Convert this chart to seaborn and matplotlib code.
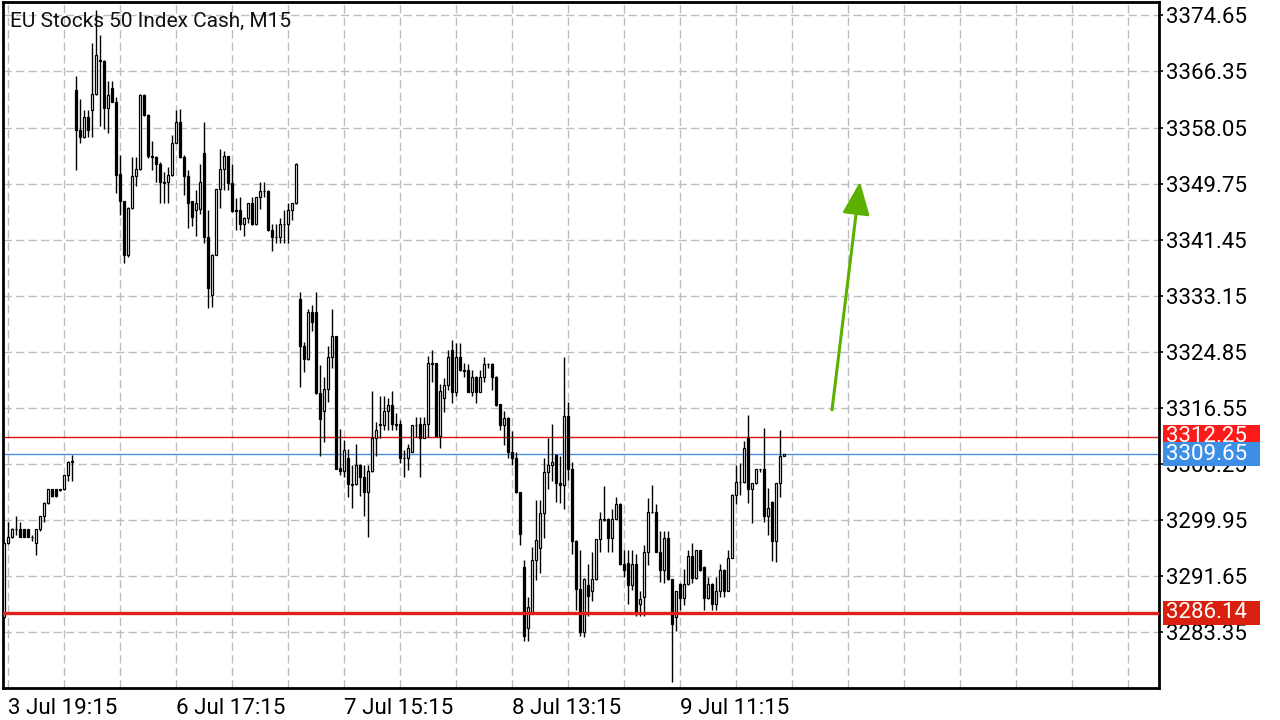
import numpy as np
import pandas as pd
import matplotlib
matplotlib.use("Agg")
import matplotlib.pyplot as plt
import matplotlib.transforms as mtransforms
from matplotlib.patches import Rectangle
import seaborn as sns

# ----------------------------
# Data (EU Stocks 50, M15 bars)
# ----------------------------
opens = [
    3285.5, 3296.4, 3297.4, 3298.5, 3298.5, 3298.5, 3298.5, 3297.4, 3296.4, 3298.5,
    3300.4, 3302.4, 3304.4, 3304.4, 3304.3, 3304.4, 3306.5, 3308.5,
    3363.6, 3357.7, 3356.6, 3359.6, 3360.7, 3363.0, 3367.9, 3367.9, 3361.0, 3363.9,
    3361.9, 3351.2, 3347.1, 3339.2, 3346.1, 3350.9, 3351.9, 3362.9, 3359.9, 3353.8,
    3353.7, 3352.7, 3349.9, 3349.9, 3351.0, 3355.8, 3358.8, 3353.7, 3350.8, 3347.1,
    3345.8, 3345.9, 3354.3, 3341.8, 3333.2, 3339.2, 3348.9, 3351.9, 3353.8, 3349.8,
    3345.8, 3345.8, 3343.7, 3344.7, 3346.8, 3343.7, 3347.7, 3348.7, 3348.7, 3342.8,
    3341.8, 3341.8, 3343.7, 3343.7, 3345.8, 3346.8,
    3332.6, 3325.7, 3323.7, 3330.7, 3330.7, 3318.7, 3316.0, 3319.3, 3324.0, 3327.1,
    3307.6, 3307.2, 3309.0, 3305.2, 3305.2, 3308.1, 3306.2, 3304.1, 3307.1, 3312.1,
    3314.0, 3314.0, 3316.0, 3316.9, 3314.1, 3314.1, 3309.0, 3309.0, 3310.0, 3314.0,
    3314.1, 3312.1, 3314.1, 3323.2, 3323.1, 3312.4, 3318.0, 3319.9, 3325.1, 3318.9,
    3324.0, 3322.1, 3322.1, 3318.9, 3321.1, 3318.9, 3321.0, 3323.0, 3323.0, 3321.1,
    3317.0, 3314.0, 3315.0, 3310.0, 3309.0, 3304.0,
    3292.9, 3283.8, 3286.0, 3293.9, 3295.8, 3300.9, 3307.0, 3308.1, 3309.5, 3305.4,
    3305.1, 3315.3, 3307.5, 3296.8, 3289.6, 3283.3, 3290.2, 3289.3, 3291.1, 3297.0,
    3300.1, 3300.1, 3297.2, 3300.1, 3302.3, 3293.3, 3293.5, 3290.2, 3293.3, 3287.4,
    3288.5, 3295.1, 3301.0, 3301.0, 3295.2, 3292.4, 3297.2, 3291.1, 3285.5,
    3290.4, 3288.3, 3290.4, 3294.5, 3291.3, 3295.4, 3292.9, 3288.3, 3290.4, 3287.4,
    3289.4, 3292.5, 3289.4, 3294.3, 3303.6, 3305.5, 3305.5, 3312.1, 3304.5, 3305.3,
    3307.4, 3307.4, 3300.5, 3302.6, 3296.7, 3305.3, 3309.3,
]
highs = [
    3296.5, 3299.6, 3298.7, 3300.5, 3299.6, 3298.6, 3298.6, 3297.7, 3298.6, 3300.5,
    3302.5, 3304.5, 3304.5, 3304.5, 3304.5, 3306.6, 3308.6, 3309.5,
    3365.7, 3362.3, 3360.7, 3360.7, 3370.5, 3375.5, 3371.8, 3368.0, 3364.9, 3364.9,
    3362.5, 3354.0, 3347.2, 3346.2, 3353.7, 3353.7, 3363.0, 3363.0, 3360.0, 3356.0,
    3353.9, 3352.9, 3351.5, 3352.2, 3356.9, 3360.7, 3360.8, 3354.0, 3351.8, 3347.2,
    3348.8, 3352.7, 3358.9, 3345.8, 3339.3, 3349.0, 3354.8, 3354.6, 3353.9, 3352.7,
    3347.6, 3347.8, 3344.8, 3346.9, 3347.8, 3347.8, 3349.9, 3349.9, 3348.8, 3343.7,
    3343.7, 3344.7, 3345.8, 3346.8, 3346.9, 3352.8,
    3333.7, 3326.3, 3331.2, 3331.8, 3333.7, 3322.9, 3321.1, 3325.7, 3331.2, 3327.2,
    3313.4, 3311.7, 3310.4, 3308.0, 3311.1, 3308.2, 3308.0, 3308.0, 3319.0, 3314.4,
    3318.2, 3318.2, 3318.0, 3319.0, 3315.7, 3314.7, 3310.2, 3311.1, 3313.9, 3315.2,
    3315.2, 3315.2, 3324.2, 3325.1, 3323.2, 3320.0, 3320.9, 3325.1, 3326.6, 3326.1,
    3326.1, 3323.1, 3323.0, 3322.1, 3321.2, 3322.1, 3324.0, 3323.1, 3323.1, 3321.2,
    3317.1, 3316.0, 3315.1, 3313.0, 3310.0, 3304.1,
    3294.0, 3288.5, 3295.9, 3302.9, 3302.9, 3309.0, 3312.1, 3314.1, 3309.6, 3309.3,
    3324.1, 3317.4, 3308.5, 3296.9, 3295.4, 3291.3, 3293.4, 3295.2, 3297.1, 3301.0,
    3304.9, 3300.2, 3301.5, 3303.3, 3302.4, 3295.4, 3295.4, 3295.4, 3294.9, 3289.3,
    3296.2, 3303.1, 3305.1, 3302.2, 3298.2, 3298.3, 3298.3, 3291.2, 3289.4,
    3290.5, 3292.6, 3295.4, 3296.4, 3295.5, 3295.5, 3293.0, 3291.5, 3290.5, 3291.5,
    3293.3, 3292.6, 3295.4, 3303.7, 3308.0, 3308.4, 3311.6, 3315.4, 3305.4, 3307.5,
    3307.5, 3313.5, 3304.6, 3302.7, 3305.4, 3313.2, 3309.7,
]
lows = [
    3285.3, 3296.3, 3297.2, 3297.7, 3297.3, 3297.3, 3297.3, 3296.7, 3294.7, 3298.2,
    3299.6, 3302.3, 3303.3, 3303.3, 3304.2, 3304.3, 3305.6, 3305.6,
    3351.7, 3355.8, 3356.5, 3356.7, 3356.7, 3362.9, 3358.2, 3357.9, 3357.2, 3361.8,
    3348.4, 3345.1, 3338.0, 3338.9, 3346.0, 3349.4, 3351.8, 3359.8, 3353.6, 3351.8,
    3349.9, 3346.9, 3346.9, 3346.9, 3350.9, 3355.7, 3353.6, 3348.1, 3343.2, 3343.4,
    3342.0, 3345.3, 3340.9, 3331.3, 3331.5, 3339.1, 3346.1, 3348.8, 3348.8, 3345.6,
    3342.9, 3342.9, 3341.9, 3343.9, 3343.6, 3343.6, 3345.9, 3347.8, 3342.7, 3339.8,
    3340.9, 3340.9, 3340.9, 3340.9, 3344.3, 3346.7,
    3319.6, 3321.8, 3323.6, 3327.9, 3318.6, 3309.3, 3311.4, 3317.4, 3322.4, 3307.4,
    3306.5, 3306.3, 3303.3, 3301.6, 3305.1, 3303.5, 3300.4, 3297.3, 3307.0, 3309.3,
    3312.1, 3313.2, 3313.2, 3313.2, 3313.2, 3308.3, 3306.2, 3307.3, 3309.9, 3312.2,
    3306.3, 3312.0, 3312.2, 3320.4, 3312.3, 3310.5, 3315.9, 3319.1, 3317.2, 3318.2,
    3322.0, 3321.1, 3318.8, 3318.2, 3317.2, 3318.8, 3320.3, 3322.4, 3319.1, 3316.8,
    3313.2, 3311.0, 3309.1, 3308.1, 3303.9, 3296.1,
    3281.9, 3282.0, 3285.9, 3291.0, 3292.0, 3297.2, 3304.4, 3305.6, 3302.6, 3302.4,
    3301.5, 3305.8, 3294.9, 3286.6, 3282.7, 3282.6, 3285.7, 3287.8, 3291.0, 3295.2,
    3299.8, 3295.2, 3295.2, 3300.0, 3293.2, 3291.5, 3287.5, 3289.5, 3285.6, 3285.6,
    3285.6, 3293.2, 3300.9, 3295.1, 3290.7, 3290.6, 3291.0, 3275.8, 3283.4,
    3286.5, 3287.3, 3290.3, 3290.5, 3291.2, 3292.3, 3286.5, 3288.2, 3286.5, 3286.5,
    3288.4, 3288.4, 3289.3, 3294.2, 3302.2, 3303.6, 3305.4, 3302.4, 3299.5, 3305.2,
    3307.0, 3299.6, 3297.6, 3293.8, 3293.7, 3303.3, 3309.3,
]
closes = [
    3296.4, 3297.4, 3298.5, 3298.6, 3297.4, 3297.4, 3297.4, 3297.3, 3298.5, 3300.4,
    3302.4, 3304.4, 3303.4, 3303.4, 3304.4, 3306.5, 3308.5, 3308.6,
    3357.7, 3356.6, 3359.6, 3357.7, 3363.0, 3368.8, 3368.0, 3361.0, 3362.8, 3361.9,
    3351.0, 3347.1, 3339.2, 3346.1, 3350.9, 3351.9, 3362.9, 3359.9, 3353.8, 3353.7,
    3352.7, 3349.9, 3349.8, 3351.0, 3355.8, 3358.8, 3353.7, 3350.8, 3346.9, 3344.8,
    3346.8, 3349.9, 3341.8, 3334.2, 3339.2, 3348.9, 3351.9, 3353.8, 3349.8, 3345.7,
    3345.7, 3343.7, 3344.7, 3346.8, 3343.7, 3347.7, 3348.7, 3348.7, 3342.8, 3341.8,
    3341.8, 3343.7, 3343.7, 3345.8, 3346.8, 3352.7,
    3325.6, 3323.7, 3330.7, 3329.2, 3318.7, 3314.9, 3319.3, 3324.0, 3327.1, 3307.5,
    3307.2, 3310.2, 3305.2, 3305.1, 3308.1, 3306.2, 3304.1, 3307.1, 3312.1, 3313.2,
    3314.1, 3316.0, 3316.9, 3314.1, 3314.0, 3309.0, 3309.0, 3310.6, 3313.9, 3313.9,
    3312.1, 3314.1, 3323.2, 3323.0, 3312.4, 3319.0, 3319.9, 3324.0, 3318.9, 3324.0,
    3322.1, 3322.0, 3318.9, 3321.1, 3318.9, 3321.1, 3323.0, 3323.0, 3321.0, 3316.9,
    3314.0, 3315.0, 3310.0, 3309.0, 3304.0, 3297.8,
    3282.7, 3287.0, 3294.0, 3296.9, 3300.9, 3307.0, 3308.1, 3308.5, 3305.3, 3305.1,
    3315.3, 3307.5, 3296.7, 3289.6, 3283.3, 3291.2, 3288.6, 3291.1, 3297.0, 3300.0,
    3299.9, 3297.2, 3300.1, 3302.3, 3293.3, 3292.4, 3290.2, 3293.3, 3286.0, 3288.1,
    3295.1, 3301.0, 3301.0, 3295.2, 3292.4, 3297.2, 3291.1, 3284.4, 3289.3,
    3288.3, 3290.4, 3294.5, 3291.3, 3295.4, 3292.4, 3288.3, 3290.4, 3287.4, 3289.4,
    3292.5, 3289.4, 3294.3, 3303.6, 3305.5, 3305.5, 3310.5, 3304.5, 3305.3, 3307.4,
    3307.4, 3300.5, 3301.6, 3296.7, 3305.3, 3309.3, 3309.65,
]

price_ticks = [3374.65, 3366.35, 3358.05, 3349.75, 3341.45, 3333.15,
               3324.85, 3316.55, 3308.25, 3299.95, 3291.65, 3283.35]
time_labels = ["3 Jul 19:15", "6 Jul 17:15", "7 Jul 15:15", "8 Jul 13:15", "9 Jul 11:15"]
time_label_bars = [1, 43, 85, 127, 169]

ask_price = 3312.25
bid_price = 3309.65
support_price = 3286.14
arrow_from = (207, 3316.2)
arrow_to = (214, 3350.0)

title = "EU Stocks 50 Index Cash, M15"

# ----------------------------
# Style
# ----------------------------
sns.set_style("white")
plt.rcParams["font.family"] = ["Roboto", "DejaVu Sans"]
plt.rcParams["lines.scale_dashes"] = False

df = pd.DataFrame({"open": opens, "high": highs, "low": lows, "close": closes})
df["bar"] = np.arange(len(df))
df["high"] = df[["open", "high", "close"]].max(axis=1)
df["low"] = df[["open", "low", "close"]].min(axis=1)
df["up"] = df["close"] >= df["open"]

fig = plt.figure(figsize=(12.8, 7.2), dpi=100)
ax = fig.add_axes([3 / 1280, 32 / 720, 1156 / 1280, 686 / 720])

ax.set_xlim(-0.25, 288.75)
ax.set_ylim(3274.98, 3376.65)

# grid
grid_kw = dict(color="#bdbdbd", lw=1.0, dashes=(6, 3), zorder=0)
for p in price_ticks:
    ax.axhline(p, **grid_kw)
for b in np.arange(1, 289, 14):
    ax.axvline(b, **grid_kw)

# candles: wicks + bodies
ax.vlines(df["bar"], df["low"], df["high"], color="black", lw=1.0, zorder=3)
body_bottom = df[["open", "close"]].min(axis=1)
body_height = (df["close"] - df["open"]).abs()
ax.bar(df["bar"], body_height, bottom=body_bottom, width=0.62,
       color=np.where(df["up"], "white", "black"), edgecolor="black",
       linewidth=0.9, zorder=4)

# price lines
ax.axhline(ask_price, color="#e01010", lw=1.0, zorder=2)
ax.axhline(bid_price, color="#4a90e2", lw=1.0, zorder=2)
ax.axhline(support_price, color="#e0201a", lw=2.4, zorder=5)

# arrow
ax.annotate("", xy=arrow_to, xytext=arrow_from,
            arrowprops=dict(arrowstyle="-|>,head_length=1.0,head_width=0.42",
                            color="#5cb000", lw=2.2, mutation_scale=20,
                            shrinkA=0, shrinkB=0), zorder=6)

# title
ax.text(0.006, 0.972, title, transform=ax.transAxes, fontsize=15,
        ha="left", va="center", color="#111111", zorder=7)

# axes / ticks
for s in ax.spines.values():
    s.set_color("black")
    s.set_linewidth(2.0)

ax.yaxis.tick_right()
ax.set_yticks(price_ticks)
ax.set_yticklabels([f"{p:.2f}" for p in price_ticks])
ax.tick_params(axis="y", direction="out", length=3, width=1.2, pad=2,
               labelsize=16, colors="black", right=True, left=False)

ax.set_xticks(time_label_bars)
ax.set_xticklabels(time_labels)
ax.tick_params(axis="x", direction="out", length=4, width=1.5, pad=3,
               labelsize=16, colors="black")
for lbl in ax.get_xticklabels():
    lbl.set_horizontalalignment("left")

ax.set_xlabel("")
ax.set_ylabel("")

# price tags on the right scale (later tags sit on top of earlier ones)
blend = mtransforms.blended_transform_factory(ax.transAxes, ax.transData)
tag_h = 24 * (3376.65 - 3274.98) / 686
tags = [(ask_price, "#ff1a1a"), (bid_price, "#3d8fe6"), (support_price, "#d9200f")]
for k, (price, col) in enumerate(tags):
    z = 8 + 2 * k
    ax.add_patch(Rectangle((1.0035, price - tag_h / 2), 0.084, tag_h,
                           transform=blend, facecolor=col, edgecolor="none",
                           clip_on=False, zorder=z))
    ax.text(1.0064, price, f"{price:.2f}", transform=blend, fontsize=16,
            color="white", ha="left", va="center", clip_on=False, zorder=z + 1)

fig.savefig("out.png", dpi=100)
plt.close(fig)
